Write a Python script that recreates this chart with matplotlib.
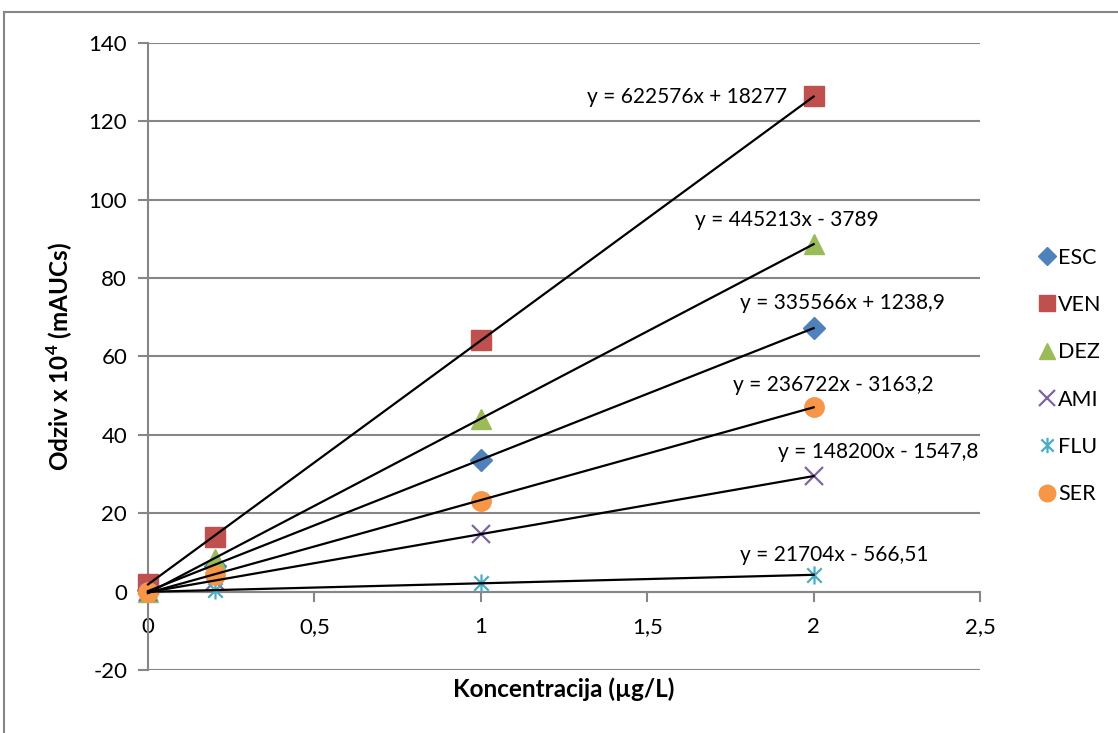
import numpy as np
import matplotlib
matplotlib.use("Agg")
import matplotlib.pyplot as plt
from matplotlib.path import Path
from matplotlib.lines import Line2D
from matplotlib.ticker import FuncFormatter

plt.rcParams['font.family'] = ['Lato', 'DejaVu Sans']
plt.rcParams['axes.unicode_minus'] = False
plt.rcParams['mathtext.fontset'] = 'custom'
plt.rcParams['mathtext.rm'] = 'Lato'
plt.rcParams['mathtext.bf'] = 'Lato:bold'

# koncentracija (ug/L)
conc = [0, 0.2, 1, 2]
names = ['ESC', 'VEN', 'DEZ', 'AMI', 'FLU', 'SER']
# odziv x 10^4
esc = [0.3, 6.5, 33.6, 67.2]
ven = [2.0, 14.0, 64.2, 126.4]
dez = [0.0, 8.2, 44.1, 88.7]
ami = [0.0, 2.6, 14.7, 29.5]
flu = [0.0, 0.4, 2.1, 4.3]
ser = [0.0, 4.3, 23.1, 47.2]
series = [esc, ven, dez, ami, flu, ser]

# trendline koeficijenti (iz Excela)
slopes = [335566, 622576, 445213, 148200, 21704, 236722]
intercepts = [1238.9, 18277, -3789, -1547.8, -566.51, -3163.2]
eq_text = ['y = 335566x + 1238,9', 'y = 622576x + 18277', 'y = 445213x - 3789',
           'y = 148200x - 1547,8', 'y = 21704x - 566,51', 'y = 236722x - 3163,2']

colors = ['#4F81BD', '#C0504D', '#9BBB59', '#8064A2', '#4BACC6', '#F79646']

# zvjezdica (Excel star marker)
star = Path([(-1, -1), (1, 1), (-1, 1), (1, -1), (0, -1.25), (0, 1.25)],
            [Path.MOVETO, Path.LINETO, Path.MOVETO, Path.LINETO, Path.MOVETO, Path.LINETO])
markers = ['D', 's', '^', 'x', star, 'o']
msizes = [11, 14, 14, 13, 13, 14]

fig = plt.figure(figsize=(11.18, 7.33), dpi=100)
ax = fig.add_axes([0.1324, 0.0860, 0.7442, 0.8553])

for i, name in enumerate(names):
    m = markers[i]
    if m in ('x',) or m is star:
        ax.plot(conc, series[i], linestyle='none', marker=m, ms=msizes[i],
                mec=colors[i], mew=1.6, label=name, zorder=3, clip_on=False)
    else:
        ax.plot(conc, series[i], linestyle='none', marker=m, ms=msizes[i],
                mfc=colors[i], mec=colors[i], label=name, zorder=3, clip_on=False)

# trendlines preko markera
xl = np.array([0, 2])
for i in range(len(names)):
    yl = (slopes[i] * xl + intercepts[i]) / 1e4
    ax.plot(xl, yl, color='black', lw=1.6, zorder=4, clip_on=False)

# pozicije jednadzbi
lab_x = [1.779, 1.920, 1.644, 1.893, 1.779, 1.758]
lab_y = [73.6, 126.2, 94.8, 35.6, 9.3, 52.7]
lab_ha = ['left', 'right', 'left', 'left', 'left', 'left']
for i in range(len(names)):
    ax.text(lab_x[i], lab_y[i], eq_text[i], ha=lab_ha[i], va='center', fontsize=15, zorder=5)

ax.set_xlim(0, 2.5)
ax.set_ylim(-20, 140)
ax.set_yticks(np.arange(-20, 141, 20))
ax.set_xticks(np.arange(0, 2.51, 0.5))
ax.xaxis.set_major_formatter(FuncFormatter(lambda v, p: ('%g' % v).replace('.', ',')))
ax.grid(axis='y', color='#868686', lw=1.5)
ax.set_axisbelow(True)
for s in ['top', 'right']:
    ax.spines[s].set_visible(False)
ax.spines['bottom'].set_position(('data', 0))
ax.spines['bottom'].set_color('#868686')
ax.spines['left'].set_color('#868686')
ax.spines['bottom'].set_linewidth(1.5)
ax.spines['left'].set_linewidth(1.5)
ax.tick_params(axis='both', colors='#868686', width=1.5, length=7, labelsize=16, labelcolor='black')
ax.tick_params(axis='x', pad=11)
ax.tick_params(axis='y', pad=8)

ax.set_xlabel('Koncentracija (µg/L)', fontsize=17.5, fontweight='bold')
ax.xaxis.set_label_coords(0.5, -0.012)
ax.set_ylabel(r'Odziv x 10$^{\mathbf{4}}$ (mAUCs)', fontsize=17.5, fontweight='bold')
ax.yaxis.set_label_coords(-0.088, 0.5)

ax.legend(loc='center left', bbox_to_anchor=(1.042, 0.469), frameon=False, fontsize=15.5,
          handlelength=1.0, handletextpad=0.0, labelspacing=1.27, markerscale=0.85,
          borderaxespad=0.6)

# okvir grafikona
fig.add_artist(Line2D([4 / 1118, 1], [1 - 12 / 733, 1 - 12 / 733], color='#868686', lw=1.5))
fig.add_artist(Line2D([4 / 1118, 4 / 1118], [0, 1 - 12 / 733], color='#868686', lw=1.5))

fig.savefig('out.png', dpi=100)
